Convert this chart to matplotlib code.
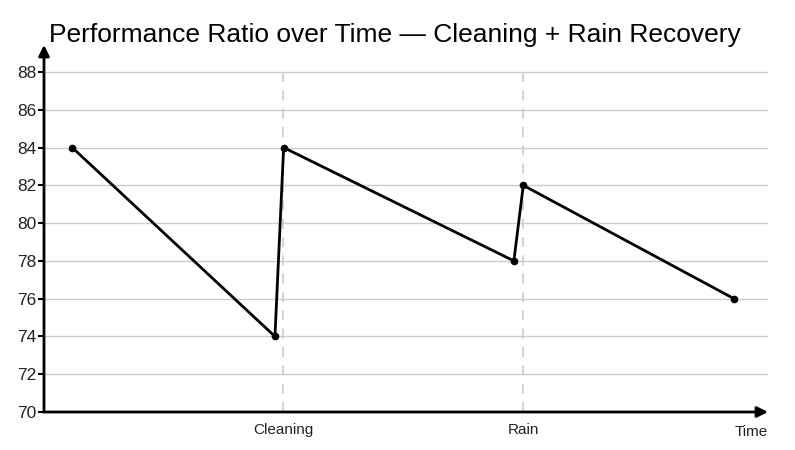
import matplotlib
matplotlib.use("Agg")
import matplotlib.pyplot as plt

plt.rcParams['font.family'] = ['Liberation Sans', 'DejaVu Sans']

# Data (time in arbitrary units, PR in %)
time = [3.9, 31.9, 33.1, 64.9, 66.2, 95.3]
pr = [84, 74, 84, 78, 82, 76]
event_times = [33.0, 66.2]
event_labels = ["Cleaning", "Rain"]
yticks = [70, 72, 74, 76, 78, 80, 82, 84, 86, 88]

fig = plt.figure(figsize=(7.95, 4.5), dpi=100)
ax = fig.add_axes([44/795, 38/450, 724/795, 367/450])
ax.set_xlim(0, 100)
ax.set_ylim(70, 89.43)

for s in ax.spines.values():
    s.set_visible(False)

# grid
for y in yticks:
    ax.plot([0, 100], [y, y], color='#cccccc', lw=1.0, zorder=0)

# event dashed lines
for t in event_times:
    ax.plot([t, t], [70, 88], color='#cccccc', lw=1.2, ls=(0, (6, 5)), zorder=0)

# axes arrows
ax.annotate('', xy=(1.0, 0), xytext=(0, 0), xycoords='axes fraction',
            arrowprops=dict(arrowstyle='-|>', color='black', lw=2, mutation_scale=16,
                            shrinkA=0, shrinkB=0), zorder=5)
ax.annotate('', xy=(0, 1.0), xytext=(0, 0), xycoords='axes fraction',
            arrowprops=dict(arrowstyle='-|>', color='black', lw=2, mutation_scale=16,
                            shrinkA=0, shrinkB=0), zorder=5)

ax.plot(time, pr, color='black', lw=2, marker='o', ms=4.5, zorder=3)

ax.set_yticks(yticks)
ax.set_yticklabels([str(v) for v in yticks], fontsize=12.5, color='#222222')
ax.tick_params(axis='y', length=4, width=1.5, color='black', pad=1.5)
ax.set_xticks(event_times)
ax.set_xticklabels(event_labels, fontsize=11, color='#222222')
ax.tick_params(axis='x', length=0, pad=8)

ax.text(1.0, -0.035, "Time", transform=ax.transAxes, ha='right', va='top',
        fontsize=11, color='#222222')

fig.text(0.497, 0.922, "Performance Ratio over Time \u2014 Cleaning + Rain Recovery",
         ha='center', va='center', fontsize=19, color='black')

fig.savefig("out.png", dpi=100)
